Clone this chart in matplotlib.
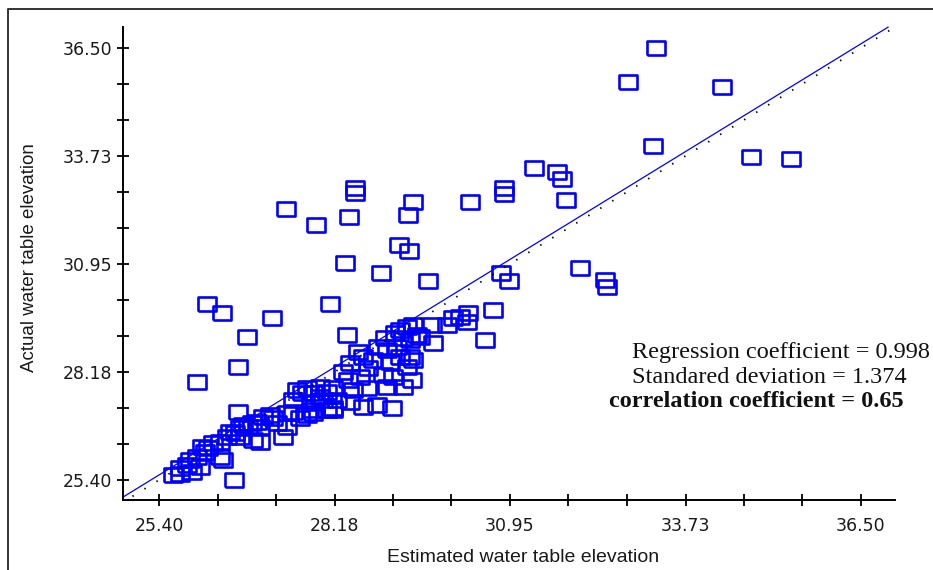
import numpy as np
import matplotlib.pyplot as plt
from matplotlib.lines import Line2D

# Scattered points away from the 1:1 line
est_outer = [33.26, 32.81, 34.30, 33.21, 34.76, 35.39, 31.33, 31.69, 31.77, 31.83,
             30.85, 30.85, 30.32, 29.41, 29.34, 28.50, 28.50, 27.41, 27.88, 28.40,
             29.19, 29.35, 28.34, 28.91, 29.65, 30.81, 30.93, 32.06, 32.45, 32.48,
             26.16, 26.40, 27.19, 28.10, 26.79, 28.37, 30.68, 30.55, 26.00, 26.65,
             26.65, 26.58]
act_outer = [36.50, 35.62, 35.50, 33.98, 33.70, 33.65, 33.41, 33.31, 33.13, 32.59,
             32.90, 32.75, 32.54, 32.54, 32.21, 32.90, 32.77, 32.36, 31.95, 32.16,
             31.44, 31.28, 30.97, 30.72, 30.51, 30.72, 30.51, 30.85, 30.54, 30.36,
             29.92, 29.69, 29.56, 29.92, 29.07, 29.12, 29.77, 29.00, 27.92, 28.30,
             27.15, 25.40]

# Dense band of points just below the 1:1 line
est_band = [25.62, 25.73, 25.73, 25.84, 25.89, 26.00, 25.92, 26.05, 26.13, 26.08,
            26.17, 26.25, 26.36, 26.41, 26.36, 26.47, 26.52, 26.60, 26.68, 26.73,
            26.81, 26.87, 26.95, 26.99, 27.04, 27.15, 27.20, 27.26, 26.89, 26.99,
            26.68, 27.36, 27.42, 27.42, 27.52, 27.52, 27.58, 27.66, 27.74, 27.83,
            27.87, 27.82, 27.74, 27.63, 27.94, 27.99, 28.06, 28.15, 27.94, 28.06,
            28.21, 28.15, 27.83, 28.42, 28.62, 28.85, 29.08, 28.31, 28.42, 28.39,
            28.55, 28.62, 28.58, 28.70, 28.78, 28.86, 28.97, 29.00, 29.05, 28.94,
            29.16, 29.13, 29.21, 29.32, 29.41, 29.26, 29.37, 29.48, 29.53, 29.73,
            29.72, 29.41, 29.21, 29.32, 29.40, 29.37, 29.00, 29.26, 29.10, 30.05,
            30.16, 30.28, 30.27, 28.69, 28.47, 28.15, 29.95]
act_band = [25.53, 25.55, 25.71, 25.79, 25.91, 25.99, 25.61, 25.73, 26.12, 26.25,
            26.22, 26.35, 26.38, 25.91, 25.99, 26.50, 26.63, 26.61, 26.74, 26.81,
            26.76, 26.86, 26.89, 26.76, 27.02, 27.07, 26.99, 26.86, 26.43, 26.38,
            26.50, 26.50, 26.76, 27.12, 27.15, 27.46, 27.71, 27.63, 27.76, 27.63,
            27.38, 27.20, 27.07, 26.99, 27.53, 27.46, 27.20, 27.20, 27.79, 27.66,
            27.46, 27.76, 27.12, 27.40, 27.28, 27.33, 27.25, 28.17, 28.40, 27.97,
            28.69, 28.56, 28.05, 28.28, 28.48, 28.82, 29.05, 28.74, 28.43, 28.10,
            28.82, 29.18, 29.25, 29.33, 29.38, 29.05, 28.99, 29.12, 29.07, 28.92,
            29.38, 28.48, 28.56, 28.30, 27.97, 28.56, 27.79, 27.79, 28.05, 29.56,
            29.59, 29.69, 29.46, 27.76, 27.71, 27.25, 29.38]

# Regression line and the 1:1 reference line
slope, intercept = 0.998, 0.18
fit_x = [24.83, 36.93]
ideal_x = [24.98, 37.00]

ticks = [25.40, 28.18, 30.95, 33.73, 36.50]
tick_labels = ['25.40', '28.18', '30.95', '33.73', '36.50']
minor_ticks = [25.40 + 0.925 * k for k in range(13) if k % 3 != 0]

stats_lines = ['Regression coefficient = 0.998',
               'Standared deviation = 1.374',
               'correlation coefficient = 0.65']

W, H = 933, 570
fig = plt.figure(figsize=(W / 100, H / 100), dpi=100)
ax = fig.add_axes([123 / W, 1 - 500 / H, (895 - 123) / W, (500 - 27) / H])

# Hollow marker, a bit wider than tall
rect = [(-1, -0.7), (1, -0.7), (1, 0.7), (-1, 0.7), (-1, -0.7)]
for xs, ys in [(est_band, act_band), (est_outer, act_outer)]:
    ax.plot(xs, ys, linestyle='none', marker=rect, ms=13.5, mfc='none',
            mec='#0000ff', mew=1.9, clip_on=False)

fx = np.array(fit_x)
ax.plot(fx, slope * fx + intercept, color='#0000ff', lw=0.9, clip_on=False)
ax.plot(ideal_x, ideal_x, color='black', lw=1.3, linestyle=(0, (0.8, 7)),
        clip_on=False)

ax.set_xlim(24.83, 37.04)
ax.set_ylim(24.886, 37.04)
ax.set_xticks(ticks)
ax.set_xticklabels(tick_labels)
ax.set_yticks(ticks)
ax.set_yticklabels(tick_labels)
ax.set_xticks(minor_ticks, minor=True)
ax.set_yticks(minor_ticks, minor=True)
ax.tick_params(which='both', direction='inout', length=8, width=1.3,
               color='black', labelsize=12.5, labelcolor='#1a1a1a')
ax.tick_params(axis='x', pad=8)
ax.tick_params(axis='y', pad=4)

for side in ['top', 'right']:
    ax.spines[side].set_visible(False)
for side in ['left', 'bottom']:
    ax.spines[side].set_linewidth(1.4)
    ax.spines[side].set_color('black')

fig.text(523 / W, 1 - 557 / H, 'Estimated water table elevation',
         ha='center', va='center', fontsize=14, family='Liberation Sans',
         color='#1a1a1a')
fig.text(30 / W, 1 - 258 / H, 'Actual water table elevation', rotation=90,
         ha='center', va='center', fontsize=13.5, family='Liberation Sans',
         color='#1a1a1a')

fig.text(632 / W, 1 - 358 / H, stats_lines[0], ha='left', va='baseline',
         fontsize=17.5, family='Liberation Serif', color='#111111')
fig.text(632 / W, 1 - 383 / H, stats_lines[1], ha='left', va='baseline',
         fontsize=17.5, family='Liberation Serif', color='#111111')
fig.text(609 / W, 1 - 407 / H, stats_lines[2], ha='left', va='baseline',
         fontsize=17.5, family='Liberation Serif', fontweight='bold',
         color='#111111')

# Outer frame of the original picture (left and top edges)
fig.add_artist(Line2D([8 / W, 8 / W, 1], [0, 1 - 9 / H, 1 - 9 / H],
                      transform=fig.transFigure, color='#333333', lw=1.4))

fig.savefig('out.png', dpi=100)
